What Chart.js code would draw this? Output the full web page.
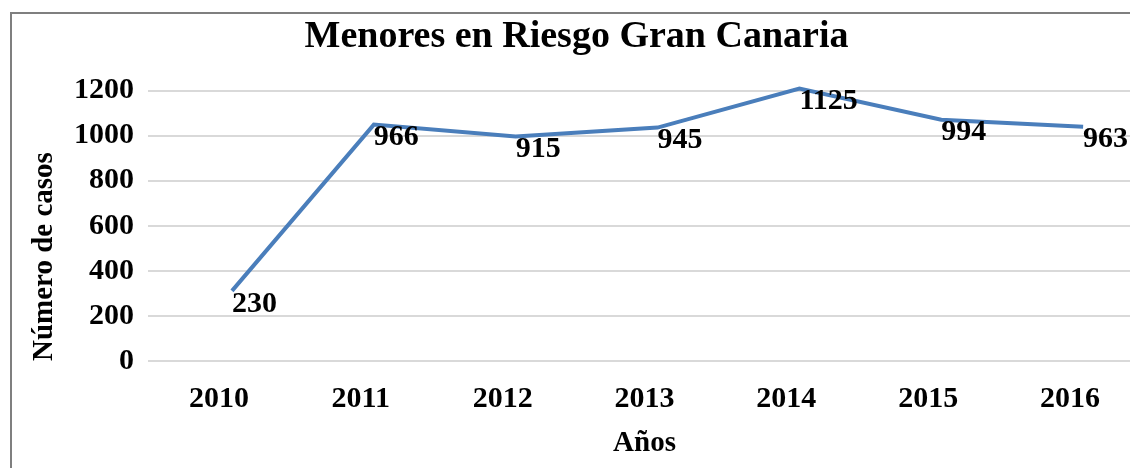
<!DOCTYPE html>
<html>
<head>
<meta charset="utf-8">
<script src="https://cdn.jsdelivr.net/npm/chart.js@4/dist/chart.umd.min.js"></script>
<style>
    html, body { margin: 0; padding: 0; background: #fff; overflow: hidden; }
    #frame {
        position: absolute;
        left: 10px;
        top: 12px;
        border-left: 2px solid #7f7f7f;
        border-top: 2px solid #7f7f7f;
    }
    canvas { display: block; }
</style>
</head>
<body>
<div id="frame">
    <canvas id="chart" width="1131" height="454"></canvas>
</div>
<script>
// Data
const years = ['2010', '2011', '2012', '2013', '2014', '2015', '2016'];
const plotted = [311, 1049, 996, 1036, 1209, 1071, 1040];
// the printed data labels
const caseLabels = ['230', '966', '915', '945', '1125', '994', '963'];
const yMin = 0;
const yMax = 1200;
const yStep = 200;

const serif = 'Liberation Serif, Times New Roman, serif';
const boldFont = size => ({ family: serif, size: size, weight: 'bold' });

// Draw the data labels just below-right of each line point
const pointLabels = {
    id: 'pointLabels',
    afterDatasetsDraw(chart) {
        const ctx = chart.ctx;
        const meta = chart.getDatasetMeta(0);
        ctx.save();
        ctx.font = 'bold 30px ' + serif;
        ctx.fillStyle = '#000';
        ctx.textAlign = 'left';
        ctx.textBaseline = 'middle';
        meta.data.forEach((pt, i) => {
            ctx.fillText(caseLabels[i], pt.x, pt.y + 13);
        });
        ctx.restore();
    }
};

new Chart(document.getElementById('chart'), {
    type: 'line',
    data: {
        labels: years,
        datasets: [{
            data: plotted.map((v, i) => ({ x: i, y: v })),
            xAxisID: 'xl',
            borderColor: '#4A7EBB',
            borderWidth: 4,
            pointRadius: 0,
            fill: false,
            tension: 0,
            clip: false
        }]
    },
    options: {
        responsive: false,
        animation: false,
        layout: { padding: { left: 0, right: 2, top: 0, bottom: 0 } },
        plugins: {
            legend: { display: false },
            tooltip: { enabled: false },
            title: {
                display: true,
                text: 'Menores en Riesgo Gran Canaria',
                font: boldFont(38),
                color: '#000',
                padding: { top: 0, bottom: 31 }
            }
        },
        scales: {
            x: {
                type: 'category',
                offset: true,
                grid: { display: false },
                border: { display: false },
                ticks: { font: boldFont(30), color: '#000', padding: 12, maxRotation: 0 },
                title: {
                    display: true,
                    text: 'Años',
                    font: boldFont(29),
                    color: '#000',
                    padding: { top: 0, bottom: 7 }
                },
                afterFit: s => { s.height = 107; }
            },
            // hidden axis carrying the line, slightly shifted like the original
            xl: {
                type: 'linear',
                position: 'bottom',
                display: false,
                min: -0.592,
                max: 6.408
            },
            y: {
                min: yMin,
                max: yMax,
                ticks: {
                    stepSize: yStep,
                    font: boldFont(30),
                    color: '#000',
                    padding: 14,
                    callback: v => String(v)
                },
                grid: { color: '#d9d9d9', lineWidth: 2, drawTicks: false },
                border: { display: false },
                title: {
                    display: true,
                    text: 'Número de casos',
                    align: 'start',
                    font: boldFont(29),
                    color: '#000',
                    padding: { top: 15, bottom: 0 }
                },
                afterFit: s => { s.width = 136; }
            }
        }
    },
    plugins: [pointLabels]
});
</script>
</body>
</html>
